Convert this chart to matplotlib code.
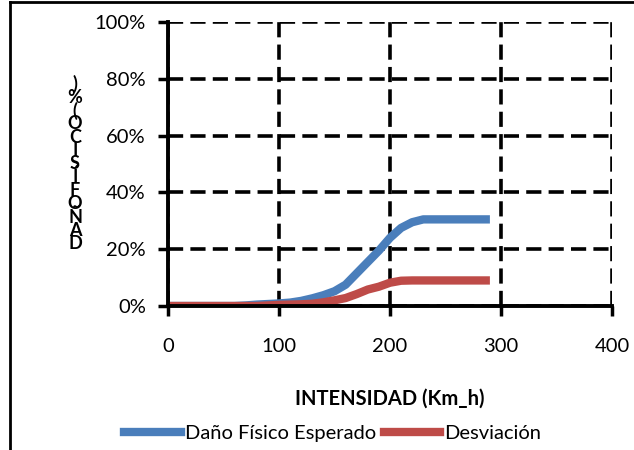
import numpy as np
import matplotlib.pyplot as plt
from matplotlib.lines import Line2D

plt.rcParams['font.family'] = ['Lato', 'DejaVu Sans']

# data
intensidad = [0, 10, 20, 30, 40, 50, 60, 70, 80, 90, 100, 110, 120, 130, 140, 150,
              160, 170, 180, 190, 200, 210, 220, 230, 240, 250, 260, 270, 280, 290]
dano = [0, 0, 0, 0, 0, 0, 0, 0.2, 0.5, 0.7, 0.9, 1.2, 1.8, 2.7, 3.8, 5.2,
        7.5, 11.5, 15.5, 19.5, 24.0, 27.5, 29.5, 30.5, 30.5, 30.5, 30.5, 30.5, 30.5, 30.5]
desviacion = [0, 0, 0, 0, 0, 0, 0, 0, 0, 0.2, 0.4, 0.5, 0.6, 0.8, 1.3, 2.0,
              2.8, 4.2, 5.8, 6.8, 8.2, 8.9, 9.0, 9.0, 9.0, 9.0, 9.0, 9.0, 9.0, 9.0]
yticks = [0, 20, 40, 60, 80, 100]
xticks = [0, 100, 200, 300, 400]
ylabel = 'DAÑO FÍSICO (%)'

fs = 14.5

fig = plt.figure(figsize=(6.34, 4.5), dpi=100)
ax = fig.add_axes([168/634, 1 - 306/450, 444/634, 284/450])

ax.plot(intensidad, dano, color='#4a7ebb', lw=6, solid_capstyle='butt', label='Daño Físico Esperado', zorder=3)
ax.plot(intensidad, desviacion, color='#be4b48', lw=6, solid_capstyle='butt', label='Desviación', zorder=4)

ax.set_xlim(0, 400)
ax.set_ylim(0, 100)
ax.set_xticks(xticks)
ax.set_yticks(yticks)
ax.set_yticklabels([f'{v}%' for v in yticks])
ax.tick_params(labelsize=fs, width=2.5, length=7, direction='out')
ax.tick_params(axis='y', pad=9)
ax.tick_params(axis='x', pad=16)
ax.grid(True, color='black', lw=2.6, ls=(0, (4.2, 2)), zorder=1)
ax.set_axisbelow(True)
for s in ['top', 'right']:
    ax.spines[s].set_visible(False)
for s in ['left', 'bottom']:
    ax.spines[s].set_linewidth(2.8)
    ax.spines[s].set_zorder(5)

ax.set_xlabel('INTENSIDAD (Km_h)', fontsize=fs, fontweight='bold', labelpad=24)

# stacked y label (characters upright, reversed order)
chars = ylabel.replace(' ', '')[::-1]
y0 = 1 - 84/450
for i, ch in enumerate(chars):
    fig.text(75/634, y0 - i * (13.3/450), ch, fontsize=13, fontweight='bold',
             ha='center', va='center')

handles = [Line2D([], [], color='#4a7ebb', lw=6), Line2D([], [], color='#be4b48', lw=6)]
fig.legend(handles, ['Daño Físico Esperado', 'Desviación'], loc='center',
           bbox_to_anchor=(333/634, 1 - 433/450), ncol=2, frameon=False,
           fontsize=fs, handlelength=2.8, handletextpad=0.2, columnspacing=0.4)

# outer frame lines
fig.add_artist(Line2D([10/634, 10/634], [0, 1 - 2/450], color='black', lw=2))
fig.add_artist(Line2D([10/634, 1], [1 - 2/450, 1 - 2/450], color='black', lw=2))

fig.savefig('out.png', dpi=100)
